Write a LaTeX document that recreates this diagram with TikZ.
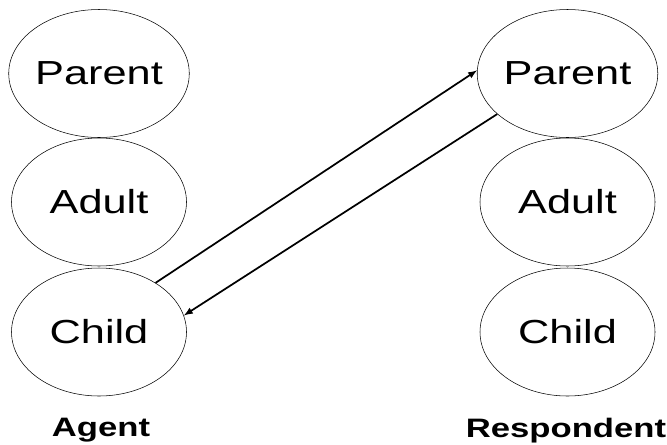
\documentclass[tikz,border=0pt]{standalone}
\usepackage{fontspec}
\usepackage{tikz}
\usetikzlibrary{shapes.geometric}
\newfontfamily\statefont[FakeStretch=1.3]{Liberation Sans}

\tikzset{
  egostate/.style={draw, ellipse, inner sep=0pt, minimum width=131.25pt, minimum height=96pt,
    font=\statefont\fontsize{25}{30}\selectfont},
  rolename/.style={font=\statefont\bfseries\fontsize{20}{24}\selectfont},
  transaction/.style={draw, line width=1.3pt, -latex}
}

\begin{document}
\begin{tikzpicture}[x=0.75pt,y=0.75pt,yscale=-1,xscale=1]
\useasboundingbox (0,0) rectangle (667,444);

% Agent
\node [egostate] (aparent) at (99,73.5) {Parent};
\node [egostate] (aadult) at (99,202) {Adult};
\node [egostate] (achild) at (99,332) {Child};
\node [rolename] (agent) at (101,430) {Agent};

% Respondent
\node [egostate] (rparent) at (567.5,73.5) {Parent};
\node [egostate] (radult) at (567.5,202) {Adult};
\node [egostate] (rchild) at (567.5,332) {Child};
\node [rolename] (respondent) at (566,431) {Respondent};

% Transactions
\draw [transaction] (achild.41) -- (rparent.178);
\draw [transaction] (rparent.210) -- (achild.11);

\end{tikzpicture}
\end{document}
